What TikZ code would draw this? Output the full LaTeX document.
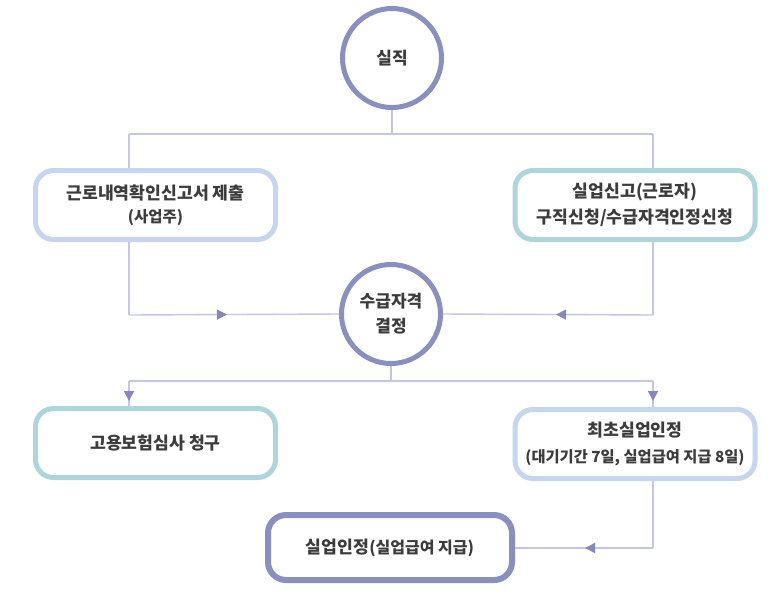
\documentclass[tikz,border=0pt]{standalone}
\usepackage{fontspec}
\setmainfont{Noto Sans CJK KR}
\usetikzlibrary{arrows.meta,decorations.markings}
\definecolor{cdark}{HTML}{8A8FC2}
\definecolor{clight}{HTML}{C6D5F0}
\definecolor{cteal}{HTML}{AFD5DC}
\definecolor{cline}{HTML}{C3C6E4}
\definecolor{ctip}{HTML}{8389BE}
\definecolor{ctext}{HTML}{3C3C3C}
\tikzset{
  circ/.style={circle,draw=cdark,line width=5pt,minimum size=99pt,inner sep=0pt,align=center,text=ctext,font=\bfseries\fontsize{17}{25}\selectfont},
  boxbase/.style={rounded corners=18pt,line width=5pt,minimum width=240pt,minimum height=69pt,inner sep=0pt,align=center,text=ctext,font=\bfseries\fontsize{17.2}{26}\selectfont},
  boxlight/.style={boxbase,draw=clight},
  boxteal/.style={boxbase,draw=cteal},
  boxdark/.style={boxbase,draw=cdark,line width=6pt,minimum width=244pt,minimum height=65pt},
  conn/.style={draw=cline,line width=1.4pt},
  tipat/.style={postaction={decorate},decoration={markings,mark=at position #1 with {\arrow[ctip]{Triangle[width=10pt,length=10pt]}}}}
}
\begin{document}
\begin{tikzpicture}[x=1pt,y=-1pt]
\useasboundingbox[fill=white] (0,0) rectangle (783,603);
% nodes
\node[circ] (c1) at (392,58) {실직};
\node[boxlight] (b1) at (155.5,205) {근로내역확인신고서 제출\\[-3pt]{\fontsize{15.5}{20}\selectfont (사업주)}};
\node[boxteal] (b2) at (635,205) {실업신고(근로자)\\구직신청/수급자격인정신청};
\node[circ] (c2) at (391,314) {수급자격\\결정};
\node[boxteal] (b3) at (155.5,443) {고용보험심사 청구};
\node[boxlight] (b4) at (635,444) {최초실업인정\\{\fontsize{15.3}{20}\selectfont(대기기간 7일, 실업급여 지급 8일)}};
\node[boxdark] (b5) at (390,547.5) {실업인정{\fontsize{16}{20}\selectfont(실업급여 지급)}};
% coordinates
\coordinate (j1) at (392,134);
\coordinate (l1) at (129,134);
\coordinate (r1) at (653,134);
\coordinate (l2) at (129,315);
\coordinate (r2) at (653,315);
\coordinate (j2) at (391,381);
\coordinate (l3) at (129,381);
\coordinate (r3) at (653,381);
\coordinate (r4) at (653,548);
% connectors
\draw[conn] (c1.south) -- (j1);
\draw[conn] (l1) -- (r1);
\draw[conn] (l1) -- (l1 |- b1.north);
\draw[conn] (r1) -- (r1 |- b2.north);
\draw[conn] (l2 |- b1.south) -- (l2);
\draw[conn,tipat=98pt] (l2) -- (c2.west);
\draw[conn] (r2 |- b2.south) -- (r2);
\draw[conn,tipat=97pt] (r2) -- (c2.east);
\draw[conn] (c2.south) -- (j2);
\draw[conn] (l3) -- (r3);
\draw[conn,tipat=20pt] (l3) -- (l3 |- b3.north);
\draw[conn,tipat=20pt] (r3) -- (r3 |- b4.north);
\draw[conn] (r4 |- b4.south) -- (r4);
\draw[conn,tipat=68pt] (r4) -- (b5.east |- r4);
\end{tikzpicture}
\end{document}
